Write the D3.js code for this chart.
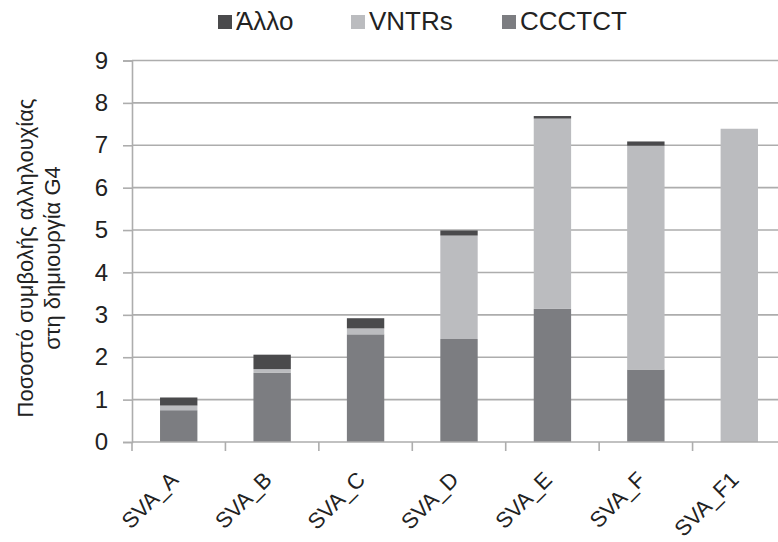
<!DOCTYPE html>
<html>
<head>
<meta charset="utf-8">
<script src="https://cdn.jsdelivr.net/npm/d3@7/dist/d3.min.js"></script>
<style>
  html, body { margin: 0; padding: 0; background: #fff; }
  svg { display: block; font-family: "Liberation Sans", Arial, sans-serif; }
</style>
</head>
<body>
<svg id="chart" width="778" height="542"></svg>
<script>
// Share of each sequence element in G4 formation per SVA subtype
const categories = ["SVA_A", "SVA_B", "SVA_C", "SVA_D", "SVA_E", "SVA_F", "SVA_F1"];
const ccctct = [0.75, 1.63, 2.54, 2.43, 3.14, 1.71, 0];
const vntrs  = [0.11, 0.09, 0.14, 2.44, 4.49, 5.28, 7.39];
const other  = [0.19, 0.34, 0.24, 0.12, 0.06, 0.10, 0];
const yTicks = [0, 1, 2, 3, 4, 5, 6, 7, 8, 9];

const seriesKeys = ["CCCTCT", "VNTRs", "Άλλο"];
const legendKeys = ["Άλλο", "VNTRs", "CCCTCT"];
const colors = { "CCCTCT": "#7c7d81", "VNTRs": "#bbbcbf", "Άλλο": "#4a4a4c" };

const rows = categories.map((c, i) => ({
  cat: c, "CCCTCT": ccctct[i], "VNTRs": vntrs[i], "Άλλο": other[i]
}));

const svg = d3.select("#chart");
const x0 = 132, x1 = 786;
const x = d3.scaleBand().domain(categories).range([x0, x1]).paddingInner(0.6).paddingOuter(0.3);
const y = d3.scaleLinear().domain([0, 9]).range([442, 60.5]);
const gridColor = "#adadad";

// horizontal gridlines
svg.append("g")
  .selectAll("line").data(yTicks.filter(t => t > 0)).join("line")
  .attr("x1", x0).attr("x2", x1)
  .attr("y1", d => y(d)).attr("y2", d => y(d))
  .attr("stroke", gridColor).attr("stroke-width", 1.6);

// y axis
const yAxis = svg.append("g").attr("transform", `translate(${x0},0)`)
  .call(d3.axisLeft(y).tickValues(yTicks).tickSize(9).tickPadding(15).tickFormat(d3.format("d")));
yAxis.select(".domain").attr("stroke", gridColor).attr("stroke-width", 1.6);
yAxis.selectAll(".tick line").attr("stroke", gridColor).attr("stroke-width", 1.6);
yAxis.selectAll(".tick text").attr("font-size", 24).attr("fill", "#222")
  .attr("font-family", "Liberation Sans, Arial, sans-serif");

// stacked bars
const stack = d3.stack().keys(seriesKeys);
svg.append("g").selectAll("g").data(stack(rows)).join("g")
  .attr("fill", d => colors[d.key])
  .selectAll("rect").data(d => d).join("rect")
  .attr("x", d => x(d.data.cat))
  .attr("width", x.bandwidth())
  .attr("y", d => y(d[1]))
  .attr("height", d => y(d[0]) - y(d[1]));

// x axis with ticks at category boundaries
const bounds = d3.range(categories.length + 1).map(i => x0 + i * x.step());
const xg = svg.append("g");
xg.append("line").attr("x1", x0).attr("x2", x1).attr("y1", y(0)).attr("y2", y(0))
  .attr("stroke", gridColor).attr("stroke-width", 1.6);
xg.selectAll("line.tk").data(bounds).join("line")
  .attr("class", "tk")
  .attr("x1", d => d).attr("x2", d => d)
  .attr("y1", y(0)).attr("y2", y(0) + 9)
  .attr("stroke", gridColor).attr("stroke-width", 1.6);
xg.selectAll("text").data(categories).join("text")
  .attr("transform", d => `translate(${x(d) + x.bandwidth() / 2 + 1},${y(0) + 39}) rotate(-45)`)
  .attr("text-anchor", "end")
  .attr("font-size", 22).attr("fill", "#222")
  .text(d => d);

// y axis title
const yTitle = svg.append("text")
  .attr("transform", "translate(33,258) rotate(-90)")
  .attr("text-anchor", "middle")
  .attr("font-size", 22).attr("fill", "#222");
yTitle.append("tspan").attr("x", 0).attr("dy", 0).text("Ποσοστό συμβολής αλληλουχίας");
yTitle.append("tspan").attr("x", 0).attr("dy", 27).text("στη δημιουργία G4");

// legend
const legendX = [218, 351, 502];
const lg = svg.append("g").selectAll("g").data(legendKeys).join("g")
  .attr("transform", (d, i) => `translate(${legendX[i]},0)`);
lg.append("rect").attr("x", 0).attr("y", 15).attr("width", 14).attr("height", 14)
  .attr("fill", d => colors[d]);
lg.append("text").attr("x", 18).attr("y", 30)
  .attr("font-size", 26).attr("fill", "#222")
  .text(d => d);
</script>
</body>
</html>
